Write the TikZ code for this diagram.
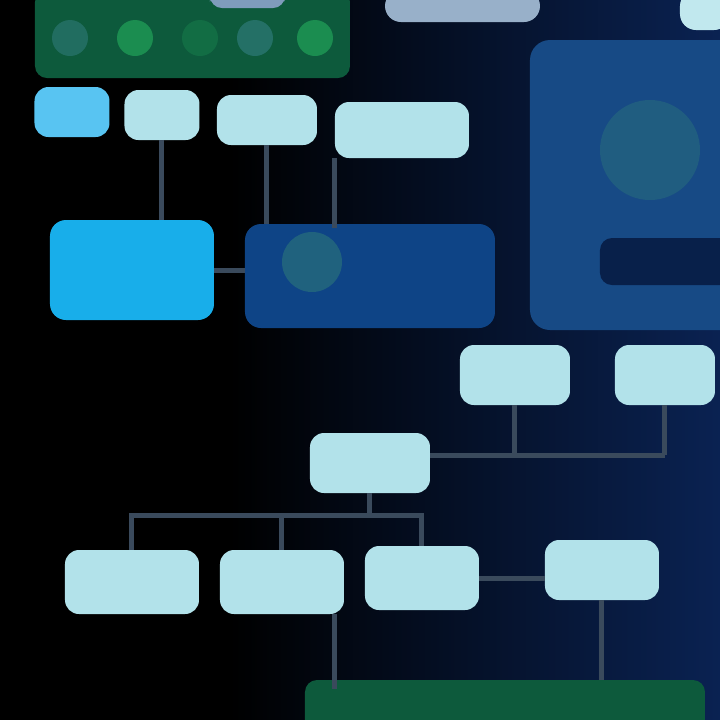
\documentclass[tikz,border=0pt]{standalone}
\definecolor{bgnavy}{HTML}{0A2252}
\definecolor{bandgreen}{HTML}{0D5A3C}
\definecolor{blobgreen}{HTML}{1E9A55}
\definecolor{blobteal}{HTML}{2E7A78}
\definecolor{boxlight}{HTML}{B2E2EA}
\definecolor{boxsky}{HTML}{58C4F2}
\definecolor{boxbright}{HTML}{18AEEA}
\definecolor{boxblue}{HTML}{0E4486}
\definecolor{panelblue}{HTML}{174A85}
\definecolor{paneldark}{HTML}{08204A}
\definecolor{linkgray}{HTML}{3A4A5C}
\definecolor{topgray}{HTML}{7F9CBC}
\tikzset{
  lbox/.style={rectangle, rounded corners=7pt, fill=boxlight, inner sep=0pt},
  link/.style={draw=linkgray, line width=2.5pt},
}
\begin{document}
\begin{tikzpicture}[x=0.5pt,y=-0.5pt]
\useasboundingbox (0,0) rectangle (720,720);
% background
\fill[black] (0,0) rectangle (720,720);
\shade[left color=black, right color=bgnavy] (230,0) rectangle (720,720);
% top strip elements
\fill[bandgreen, rounded corners=6pt] (35,-10) rectangle (350,78);
\foreach \x/\c in {70/blobteal!60!bandgreen,135/blobgreen!80!bandgreen,200/bandgreen!70!blobgreen,255/blobteal!70!bandgreen,315/blobgreen!80!bandgreen}
  \fill[\c] (\x,38) circle (18);
\fill[topgray, rounded corners=6pt] (210,-10) rectangle (285,8);
\fill[topgray!80!white, rounded corners=8pt] (385,-10) rectangle (540,22);
\fill[boxlight!80!white, rounded corners=8pt] (680,-10) rectangle (730,30);
% right panel
\fill[panelblue, rounded corners=10pt] (530,40) rectangle (740,330);
\fill[blobteal!40!panelblue] (650,150) circle (50);
\fill[paneldark, rounded corners=6pt] (600,238) rectangle (740,285);
% row 1
\node[lbox, fill=boxsky, minimum width=37.5pt, minimum height=25pt] (r1a) at (72,112) {};
\node[lbox, minimum width=37.5pt, minimum height=25pt] (r1b) at (162,115) {};
\node[lbox, minimum width=50pt, minimum height=25pt] (r1c) at (267,120) {};
\node[lbox, minimum width=67pt, minimum height=28pt] (r1d) at (402,130) {};
% big boxes
\node[rectangle, rounded corners=8pt, fill=boxbright, minimum width=82pt, minimum height=50pt] (bl) at (132,270) {};
\node[rectangle, rounded corners=8pt, fill=boxblue, minimum width=125pt, minimum height=52pt] (bb) at (370,276) {};
\fill[blobteal!55!boxblue] (312,262) circle (30);
% middle row
\node[lbox, minimum width=55pt, minimum height=30pt] (m1) at (515,375) {};
\node[lbox, minimum width=50pt, minimum height=30pt] (m2) at (665,375) {};
\node[lbox, minimum width=60pt, minimum height=30pt] (m3) at (370,463) {};
% bottom row
\node[lbox, minimum width=67pt, minimum height=32pt] (b1) at (132,582) {};
\node[lbox, minimum width=62pt, minimum height=32pt] (b2) at (282,582) {};
\node[lbox, minimum width=57pt, minimum height=32pt] (b3) at (422,578) {};
\node[lbox, minimum width=57pt, minimum height=30pt] (b4) at (602,570) {};
% bottom green band
\node[rectangle, rounded corners=6pt, fill=bandgreen, minimum width=200pt, minimum height=30pt] (gb) at (505,710) {};
\coordinate (j1) at (515,455);
\coordinate (j2) at (665,455);
\coordinate (t0) at (370,515);
% connectors
\draw[link] (r1b.south) -- (r1b.south |- bl.north);
\draw[link] (r1c.south) -- (r1c.south |- bb.north);
\draw[link] (r1d.south west) -- ++(0,70);
\draw[link] (bl.east) -- (bl.east -| bb.west);
\draw[link] (m1.south) -- (j1);
\draw[link] (m2.south) -- (j2);
\draw[link] (m3.east |- j1) -- (j2);
\draw[link] (m3.south) -- (t0);
\draw[link] (t0) -| (b1.north);
\draw[link] (t0) -| (b2.north);
\draw[link] (t0) -| (b3.north);
\draw[link] (b3.east) -- (b3.east -| b4.west);
\draw[link] (b2.south east) ++(-10,0) -- ++(0,75);
\draw[link] (b4.south) -- (b4.south |- gb.north);
\end{tikzpicture}
\end{document}
